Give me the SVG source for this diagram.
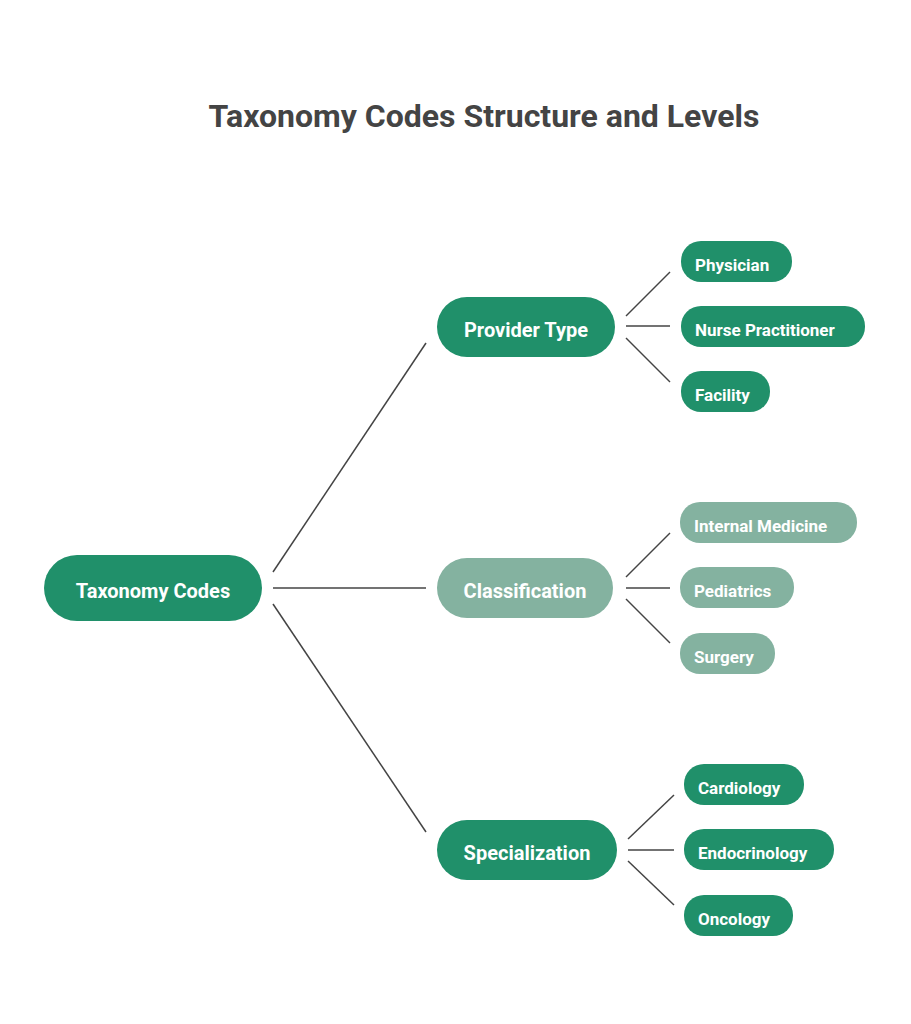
<svg xmlns="http://www.w3.org/2000/svg" width="911" height="1024" viewBox="0 0 911 1024">
<style>
.t{font-family:Roboto,"Liberation Sans",sans-serif;font-weight:bold;fill:#fff}
.g{fill:#20906a}.l{fill:#84b2a0}
.c line{stroke:#444;stroke-width:1.5}
</style>
<rect width="911" height="1024" fill="#fff"/>
<text x="484" y="127" text-anchor="middle" font-family="Roboto,'Liberation Sans',sans-serif" font-weight="bold" font-size="32" fill="#444">Taxonomy Codes Structure and Levels</text>
<g class="c">
<line x1="273" y1="572" x2="426" y2="343"/>
<line x1="273" y1="588" x2="426" y2="588"/>
<line x1="273" y1="604" x2="426" y2="832"/>
<line x1="626" y1="316" x2="670" y2="272"/>
<line x1="626" y1="326" x2="670" y2="326"/>
<line x1="626" y1="338" x2="670" y2="382"/>
<line x1="626" y1="577" x2="670" y2="533"/>
<line x1="626" y1="588" x2="670" y2="588"/>
<line x1="626" y1="599" x2="670" y2="643"/>
<line x1="628" y1="839" x2="674" y2="795"/>
<line x1="628" y1="850" x2="674" y2="850"/>
<line x1="628" y1="861" x2="674" y2="905"/>
</g>
<g id="root"><rect class="g" x="44" y="555" width="218" height="66" rx="33"/><text class="t" x="153" y="598" font-size="20" text-anchor="middle">Taxonomy Codes</text></g>
<g id="provider"><rect class="g" x="437" y="297" width="178" height="60" rx="30"/><text class="t" x="526" y="337" font-size="20" text-anchor="middle">Provider Type</text></g>
<g id="class"><rect class="l" x="437" y="558" width="176" height="60" rx="30"/><text class="t" x="525" y="598" font-size="20" text-anchor="middle">Classification</text></g>
<g id="spec"><rect class="g" x="437" y="820" width="180" height="60" rx="30"/><text class="t" x="527" y="860" font-size="20" text-anchor="middle">Specialization</text></g>
<g id="phys"><rect class="g" x="681" y="241" width="111" height="41" rx="20"/><text class="t" x="695" y="271" font-size="17">Physician</text></g>
<g id="np"><rect class="g" x="681" y="306" width="184" height="41" rx="20"/><text class="t" x="695" y="336" font-size="17">Nurse Practitioner</text></g>
<g id="fac"><rect class="g" x="681" y="371" width="89" height="41" rx="20"/><text class="t" x="695" y="401" font-size="17">Facility</text></g>
<g id="im"><rect class="l" x="680" y="502" width="177" height="41" rx="20"/><text class="t" x="694" y="532" font-size="17">Internal Medicine</text></g>
<g id="ped"><rect class="l" x="680" y="567" width="114" height="41" rx="20"/><text class="t" x="694" y="597" font-size="17">Pediatrics</text></g>
<g id="sur"><rect class="l" x="680" y="633" width="95" height="41" rx="20"/><text class="t" x="694" y="663" font-size="17">Surgery</text></g>
<g id="car"><rect class="g" x="684" y="764" width="120" height="41" rx="20"/><text class="t" x="698" y="794" font-size="17">Cardiology</text></g>
<g id="endo"><rect class="g" x="684" y="829" width="150" height="41" rx="20"/><text class="t" x="698" y="859" font-size="17">Endocrinology</text></g>
<g id="onc"><rect class="g" x="684" y="895" width="109" height="41" rx="20"/><text class="t" x="698" y="925" font-size="17">Oncology</text></g>
</svg>
